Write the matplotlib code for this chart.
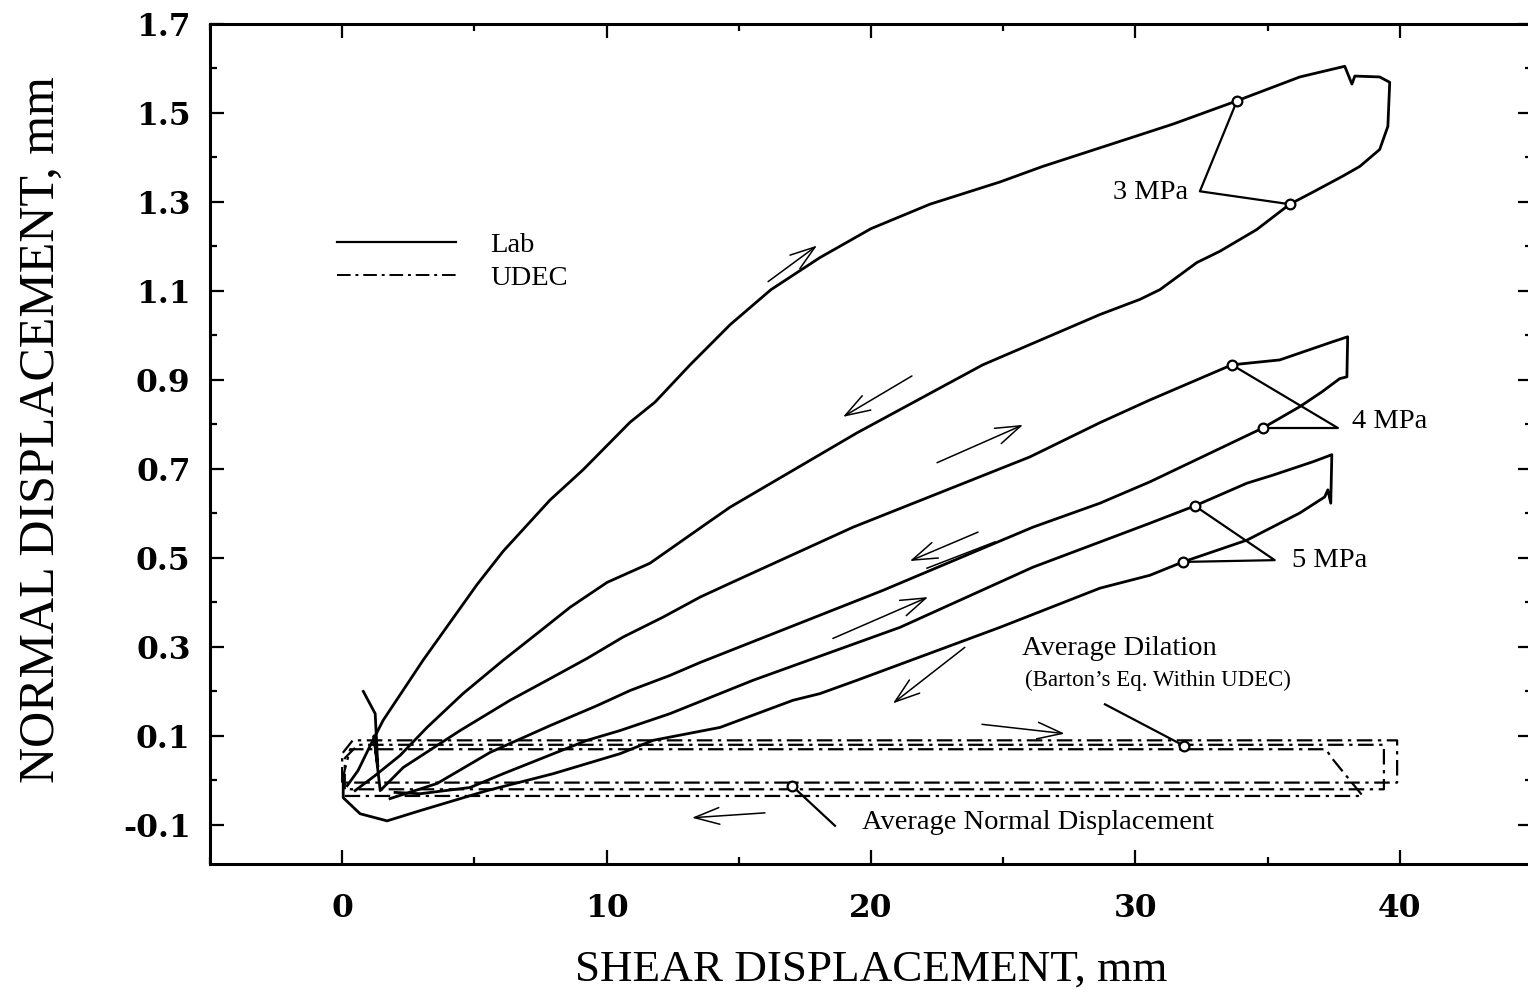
import matplotlib
matplotlib.use("Agg")
from matplotlib import pyplot as plt
from matplotlib.lines import Line2D
from matplotlib.ticker import MultipleLocator

plt.rcParams['font.family'] = ['Liberation Serif', 'DejaVu Serif']

# Lab curves (one continuous trace per normal stress: load -> reversal -> unload)
lab3_x = [0.19, 0.60, 1.06, 1.55, 3.06, 4.20, 5.10, 6.09, 7.86, 9.11, 10.89, 11.83,
          13.16, 14.67, 16.22, 18.07, 20.00, 22.23, 24.88, 26.50, 29.30, 31.42,
          33.69, 34.71, 36.22, 37.92, 38.19, 38.30, 39.24, 39.62, 39.55, 39.24,
          38.49, 37.84, 36.71, 35.84, 34.59, 33.19, 32.33, 30.93, 30.17, 28.66,
          24.23, 19.47, 14.67, 13.80, 11.64, 10.02, 8.62, 7.37, 6.09, 4.57, 3.21,
          2.19, 1.25, 0.49]
lab3_y = [-0.012, 0.022, 0.078, 0.135, 0.270, 0.365, 0.440, 0.515, 0.630, 0.698,
          0.805, 0.850, 0.934, 1.024, 1.103, 1.175, 1.240, 1.295, 1.345, 1.380,
          1.434, 1.475, 1.524, 1.547, 1.581, 1.605, 1.565, 1.583, 1.581, 1.569,
          1.470, 1.418, 1.380, 1.358, 1.322, 1.295, 1.238, 1.189, 1.164, 1.103,
          1.081, 1.047, 0.934, 0.781, 0.614, 0.578, 0.488, 0.445, 0.389, 0.330,
          0.270, 0.195, 0.119, 0.056, 0.011, -0.023]

lab4_x = [0.80, 1.25, 1.35, 1.20, 1.44, 2.31, 4.46, 6.35, 7.75, 9.26, 10.62, 12.14,
          13.54, 14.67, 19.32, 26.01, 28.66, 30.55, 33.65, 35.46, 37.47, 38.03,
          38.00, 37.73, 37.05, 36.22, 34.82, 30.55, 28.66, 26.12, 20.45, 13.54,
          12.40, 10.89, 9.64, 7.86, 5.60, 3.59, 1.81]
lab4_y = [0.200, 0.150, 0.030, 0.100, -0.023, 0.029, 0.112, 0.180, 0.225, 0.274,
          0.322, 0.367, 0.412, 0.443, 0.569, 0.727, 0.804, 0.855, 0.934, 0.945,
          0.986, 0.997, 0.907, 0.903, 0.873, 0.840, 0.792, 0.671, 0.623, 0.569,
          0.427, 0.265, 0.236, 0.202, 0.168, 0.123, 0.063, -0.007, -0.041]

lab5_x = [2.00, 2.95, 4.84, 6.09, 9.26, 10.51, 12.40, 15.54, 21.10, 26.12, 30.55,
          32.25, 34.22, 35.20, 36.71, 37.43, 37.39, 37.28, 37.16, 36.22, 34.22,
          31.80, 30.55, 28.66, 24.88, 19.47, 18.07, 17.05, 14.29, 11.76, 10.51,
          7.98, 5.48, 2.95, 1.70, 0.68, 0.04, 0.04]
lab5_y = [-0.027, -0.030, -0.016, 0.015, 0.090, 0.112, 0.150, 0.225, 0.344, 0.479,
          0.578, 0.617, 0.668, 0.686, 0.716, 0.732, 0.623, 0.653, 0.637, 0.601,
          0.540, 0.491, 0.461, 0.432, 0.344, 0.225, 0.195, 0.180, 0.119, 0.090,
          0.060, 0.015, -0.023, -0.068, -0.091, -0.075, -0.039, 0.000]

# UDEC loops (dilation out, average normal displacement back)
udec_a_x = [0.0, 0.0, 0.4, 39.9, 39.9, 0.4, 0.0]
udec_a_y = [-0.005, 0.060, 0.090, 0.090, -0.005, -0.005, -0.005]
udec_b_x = [0.1, 0.1, 0.6, 39.4, 39.4, 0.6, 0.1]
udec_b_y = [-0.020, 0.050, 0.080, 0.080, -0.020, -0.020, -0.020]
udec_c_x = [0.0, 0.3, 37.2, 37.5, 38.6, 0.0]
udec_c_y = [0.000, 0.070, 0.070, 0.045, -0.035, -0.035]

# annotation circles
mark_x = [33.84, 35.84, 33.65, 34.82, 32.25, 31.80, 31.83, 17.01]
mark_y = [1.527, 1.295, 0.934, 0.792, 0.617, 0.491, 0.078, -0.012]

# leader lines
lead3_x = [33.84, 32.44, 35.84]
lead3_y = [1.527, 1.324, 1.295]
lead4_x = [33.65, 37.66, 34.82]
lead4_y = [0.934, 0.792, 0.792]
lead5_x = [32.25, 35.27, 31.80]
lead5_y = [0.617, 0.495, 0.491]
lead_dil_x = [28.85, 31.83]
lead_dil_y = [0.171, 0.078]
lead_norm_x = [18.64, 17.01]
lead_norm_y = [-0.102, -0.012]

# direction arrows (start x, start y, end x, end y)
arrows = [(16.11, 1.121, 17.96, 1.202),
          (21.55, 0.909, 18.94, 0.817),
          (22.50, 0.714, 25.75, 0.799),
          (24.05, 0.558, 21.47, 0.493),
          (18.56, 0.319, 22.16, 0.412),
          (23.55, 0.299, 20.83, 0.173),
          (24.20, 0.126, 27.33, 0.105),
          (15.99, -0.073, 13.23, -0.084)]
extra_shaft_x = [24.69, 22.12]
extra_shaft_y = [0.536, 0.477]

fig = plt.figure(figsize=(15.28, 9.92), dpi=100)
ax = fig.add_axes([0.1374, 0.129, 0.8652, 0.8468])

lab_kw = dict(color='k', lw=2.0, solid_joinstyle='round')
for xs, ys in [(lab3_x, lab3_y), (lab4_x, lab4_y), (lab5_x, lab5_y)]:
    ax.plot(xs, ys, **lab_kw)

udec_ls = (0, (7, 2.5, 1.5, 2.5))
for xs, ys in [(udec_a_x, udec_a_y), (udec_b_x, udec_b_y), (udec_c_x, udec_c_y)]:
    ax.plot(xs, ys, color='k', lw=1.6, linestyle=udec_ls)

for xs, ys in [(lead3_x, lead3_y), (lead4_x, lead4_y), (lead5_x, lead5_y),
               (lead_dil_x, lead_dil_y), (lead_norm_x, lead_norm_y)]:
    ax.plot(xs, ys, color='k', lw=1.6)

ax.plot(mark_x, mark_y, 'o', ms=7, mfc='white', mec='k', mew=1.6, zorder=5)

for x0, y0, x1, y1 in arrows:
    ax.annotate('', xy=(x1, y1), xytext=(x0, y0),
                arrowprops=dict(arrowstyle='->,head_length=0.9,head_width=0.3',
                                lw=1.1, color='k', mutation_scale=20,
                                shrinkA=0, shrinkB=0))
ax.plot(extra_shaft_x, extra_shaft_y, color='k', lw=1.1)

txt = dict(fontsize=20.5, color='k')
ax.text(31.98, 1.322, '3 MPa', ha='right', va='center', **txt)
ax.text(38.20, 0.806, '4 MPa', ha='left', va='center', **txt)
ax.text(35.92, 0.495, '5 MPa', ha='left', va='center', **txt)
ax.text(29.41, 0.297, 'Average Dilation', ha='center', va='center', **txt)
ax.text(30.85, 0.225, '(Barton\u2019s Eq. Within UDEC)', ha='center', va='center',
        fontsize=16.5, color='k')
ax.text(19.66, -0.095, 'Average Normal Displacement', ha='left', va='center', **txt)

handles = [Line2D([], [], color='k', lw=1.6),
           Line2D([], [], color='k', lw=1.4, linestyle=udec_ls)]
ax.legend(handles, ['Lab', 'UDEC'], loc='upper left',
          bbox_to_anchor=(0.096, 0.752), frameon=False, fontsize=20.5,
          handlelength=4.2, handletextpad=1.2, labelspacing=0.25,
          borderpad=0, borderaxespad=0)

ax.set_xlim(-5, 45)
ax.set_ylim(-0.188, 1.7)
ax.set_xticks([0, 10, 20, 30, 40])
ax.xaxis.set_minor_locator(MultipleLocator(5))
ax.set_yticks([1.7, 1.5, 1.3, 1.1, 0.9, 0.7, 0.5, 0.3, 0.1, -0.1])
ax.set_yticklabels(['1.7', '1.5', '1.3', '1.1', '0.9', '0.7', '0.5', '0.3', '0.1', '-0.1'])
ax.yaxis.set_minor_locator(MultipleLocator(0.1))

ax.tick_params(which='both', direction='in', top=True, right=True, width=1.6)
ax.tick_params(which='major', length=10)
ax.tick_params(which='minor', length=5)
ax.tick_params(axis='x', which='major', pad=21)
ax.tick_params(axis='y', which='major', pad=14)
for lab in ax.get_xticklabels() + ax.get_yticklabels():
    lab.set_fontfamily('DejaVu Serif')
    lab.set_fontweight('bold')
    lab.set_fontsize(22.5)

for sp in ax.spines.values():
    sp.set_linewidth(2.2)

ax.set_xlabel('SHEAR DISPLACEMENT, mm', fontsize=32.5, va='center')
ax.xaxis.set_label_coords(0.5, -0.126)
ax.set_ylabel('NORMAL DISPLACEMENT, mm', fontsize=36, va='center')
ax.yaxis.set_label_coords(-0.127, 0.517)

fig.savefig('out.png', dpi=100)
